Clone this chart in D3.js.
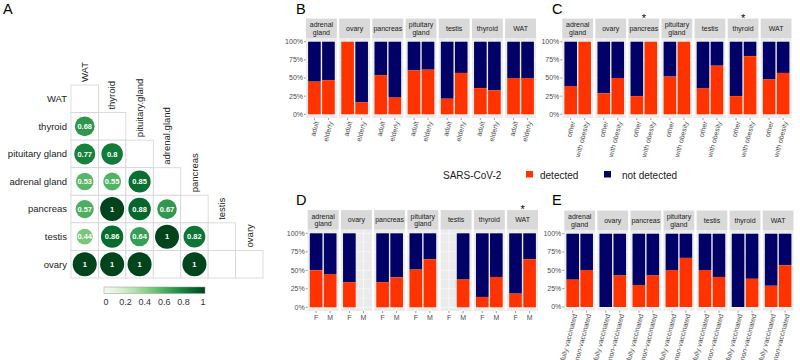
<!DOCTYPE html>
<html><head><meta charset="utf-8">
<script src="https://cdn.jsdelivr.net/npm/d3@7"></script>
<style>body{margin:0;background:#fff}svg{display:block;font-family:"Liberation Sans",Arial,sans-serif}</style>
</head><body>
<svg id="c" width="800" height="360"></svg>
<script>
// ---------- DATA ----------
const corrRows = ["WAT","thyroid","pituitary gland","adrenal gland","pancreas","testis","ovary"];
const corrCols = ["WAT","thyroid","pituitary.gland","adrenal.gland","pancreas","testis","ovary"];
const corrValues = [
  [],
  [0.68],
  [0.77, 0.8],
  [0.53, 0.55, 0.85],
  [0.57, 1, 0.88, 0.67],
  [0.44, 0.86, 0.64, 1, 0.82],
  [1, 1, 1, null, 1, null]
];
const colorbarTicks = [0, 0.2, 0.4, 0.6, 0.8, 1];

const tissues = ["adrenal gland","ovary","pancreas","pituitary gland","testis","thyroid","WAT"];
const yTicks = [0, 0.25, 0.5, 0.75, 1];
const yTickLabels = ["0%","25%","50%","75%","100%"];

const ageGroups = ["adult","elderly"];
const ageDetected = [[0.45,0.47],[1.0,0.165],[0.54,0.23],[0.605,0.615],[0.215,0.57],[0.36,0.33],[0.5,0.5]];
const ageStars = [];

const obesityGroups = ["other","with obesity"];
const obesityDetected = [[0.39,1],[0.29,0.5],[0.25,1],[0.52,1],[0.355,0.67],[0.25,0.80],[0.48,0.57]];
const obesityStars = ["pancreas","thyroid"];

const sexGroups = ["F","M"];
const sexDetected = [[0.5,0.45],[0.34,null],[0.34,0.405],[0.51,0.65],[null,0.375],[0.14,0.41],[0.185,0.65]];
const sexStars = ["WAT"];

const vaccGroups = ["fully vaccinated","non-vaccinated"];
const vaccDetected = [[0.373,0.505],[0,0.43],[0.30,0.43],[0.505,0.67],[0.505,0.41],[0,0.385],[0.29,0.57]];
const vaccStars = [];

const legendTitle = "SARS-CoV-2";
const legendLabels = ["detected","not detected"];
const COL_DET = "#FF3300", COL_NOT = "#000066";

// ---------- DRAW ----------
const svg = d3.select("#c");

// Panel letters
[["A",3,14],["B",296,14],["C",552,14],["D",296,205],["E",552,205]].forEach(([t,x,y])=>{
  svg.append("text").attr("x",x).attr("y",y).attr("font-size",14.5).attr("fill","#000").text(t);
});

// ---------- Panel A : correlation ----------
const gA = svg.append("g");
const xA = d3.scaleBand().domain(d3.range(corrCols.length)).range([71, 263]);
const yA = d3.scaleBand().domain(d3.range(corrRows.length)).range([85, 278]);
const rA = d3.scaleSqrt().domain([0,1]).range([0, 12]);
const colA = v => d3.interpolateGreens(0.08 + 0.92*v);

corrRows.forEach((r,i)=>{
  for(let j=0;j<=i;j++){
    gA.append("rect").attr("x",xA(j)).attr("y",yA(i)).attr("width",xA.bandwidth()).attr("height",yA.bandwidth())
      .attr("fill","#fff").attr("stroke","#d4d4d4").attr("stroke-width",0.8);
  }
});
corrRows.forEach((r,i)=>{
  gA.append("text").attr("x",67).attr("y",yA(i)+yA.bandwidth()/2).attr("dy","0.35em")
    .attr("text-anchor","end").attr("font-size",9.5).attr("fill","#222").text(r);
  corrValues[i].forEach((v,j)=>{
    if(v==null) return;
    const cx = xA(j)+xA.bandwidth()/2, cy = yA(i)+yA.bandwidth()/2;
    gA.append("circle").attr("cx",cx).attr("cy",cy).attr("r",rA(v)).attr("fill",colA(v));
    gA.append("text").attr("x",cx).attr("y",cy).attr("dy","0.35em").attr("text-anchor","middle")
      .attr("font-size",7.5).attr("font-weight","bold").attr("fill","#fff").text(String(v));
  });
});
corrCols.forEach((c,j)=>{
  const cx = xA(j)+xA.bandwidth()/2 + 3.3, by = yA(j) - 3;
  gA.append("text").attr("transform",`translate(${cx},${by}) rotate(-90)`)
    .attr("font-size",9.5).attr("fill","#222").text(c);
});
// colorbar
const defs = svg.append("defs");
const grad = defs.append("linearGradient").attr("id","gA");
d3.range(0,1.0001,0.1).forEach(t=>grad.append("stop").attr("offset",t).attr("stop-color",d3.interpolateGreens(0.02+0.98*t)));
const cbX = d3.scaleLinear().domain([0,1]).range([106, 203]);
gA.append("rect").attr("x",104).attr("y",287).attr("width",101).attr("height",6.5)
  .attr("fill","url(#gA)").attr("stroke","#999").attr("stroke-width",0.5);
colorbarTicks.forEach(t=>{
  gA.append("text").attr("x",cbX(t)).attr("y",305).attr("text-anchor","middle").attr("font-size",9).attr("fill","#333").text(String(t));
});

// ---------- Facet bar panels ----------
function facetPanel(cfg){
  const g = svg.append("g");
  const fx = d3.scaleBand().domain(tissues).range(cfg.xr).paddingInner(0.07);
  const y = d3.scaleLinear().domain([0,1]).range([cfg.y0, cfg.y100]);
  const pTop = y(1.05), pBot = y(-0.05);
  const stripH = 19.5;
  tissues.forEach((t,k)=>{
    const x0 = fx(t), w = fx.bandwidth();
    const bx = d3.scaleBand().domain(cfg.groups).range([x0, x0+w]).paddingInner(0.1).paddingOuter(0.15);
    g.append("rect").attr("x",x0).attr("y",pTop).attr("width",w).attr("height",pBot-pTop).attr("fill","#EBEBEB");
    [0.125,0.375,0.625,0.875].forEach(v=>g.append("line").attr("x1",x0).attr("x2",x0+w).attr("y1",y(v)).attr("y2",y(v)).attr("stroke","#fff").attr("stroke-width",0.3));
    yTicks.forEach(v=>g.append("line").attr("x1",x0).attr("x2",x0+w).attr("y1",y(v)).attr("y2",y(v)).attr("stroke","#fff").attr("stroke-width",0.6));
    cfg.groups.forEach(gr=>{
      const cx = bx(gr)+bx.bandwidth()/2;
      g.append("line").attr("x1",cx).attr("x2",cx).attr("y1",pTop).attr("y2",pBot).attr("stroke","#fff").attr("stroke-width",0.6);
    });
    g.append("rect").attr("x",x0).attr("y",pTop-stripH).attr("width",w).attr("height",stripH).attr("fill","#D9D9D9");
    const words = t.split(" ");
    const st = g.append("text").attr("text-anchor","middle").attr("font-size",7).attr("fill","#1a1a1a");
    words.forEach((wd,i)=>{
      st.append("tspan").attr("x",x0+w/2).attr("y",pTop-stripH/2 + (i-(words.length-1)/2)*7.6).attr("dy","0.35em").text(wd);
    });
    if(cfg.stars.includes(t)){
      g.append("text").attr("x",x0+w/2).attr("y",pTop-stripH+3).attr("text-anchor","middle").attr("font-size",11).attr("fill","#000").text("*");
    }
    cfg.groups.forEach((gr,gi)=>{
      const d = cfg.data[k][gi];
      if(d==null) return;
      const bxx = bx(gr), bw = bx.bandwidth();
      g.append("rect").attr("x",bxx).attr("y",y(1)).attr("width",bw).attr("height",y(d)-y(1)).attr("fill",COL_NOT);
      g.append("rect").attr("x",bxx).attr("y",y(d)).attr("width",bw).attr("height",y(0)-y(d)).attr("fill",COL_DET);
    });
    cfg.groups.forEach(gr=>{
      const cx = bx(gr)+bx.bandwidth()/2;
      g.append("line").attr("x1",cx).attr("x2",cx).attr("y1",pBot).attr("y2",pBot+2).attr("stroke","#333").attr("stroke-width",0.5);
      if(cfg.rotate){
        g.append("text").attr("transform",`translate(${cx+2.2},${pBot+3.5}) rotate(-75)`)
          .attr("text-anchor","end").attr("dy","0.35em").attr("font-size",7).attr("fill","#4d4d4d").text(gr);
      } else {
        g.append("text").attr("x",cx).attr("y",pBot+8.5).attr("text-anchor","middle").attr("font-size",7).attr("fill","#4d4d4d").text(gr);
      }
    });
    if(k===0){
      yTicks.forEach((v,i)=>{
        g.append("line").attr("x1",x0-2).attr("x2",x0).attr("y1",y(v)).attr("y2",y(v)).attr("stroke","#333").attr("stroke-width",0.5);
        g.append("text").attr("x",x0-3).attr("y",y(v)).attr("dy","0.35em").attr("text-anchor","end").attr("font-size",7).attr("fill","#4d4d4d").text(yTickLabels[i]);
      });
    }
  });
}

facetPanel({xr:[306,536], y0:114.3, y100:41.7, groups:ageGroups, data:ageDetected, stars:ageStars, rotate:true});
facetPanel({xr:[562.3,791.5], y0:114.3, y100:41.7, groups:obesityGroups, data:obesityDetected, stars:obesityStars, rotate:true});
facetPanel({xr:[307.7,538], y0:307.3, y100:233.3, groups:sexGroups, data:sexDetected, stars:sexStars, rotate:false});
facetPanel({xr:[564.3,793.5], y0:307, y100:233.7, groups:vaccGroups, data:vaccDetected, stars:vaccStars, rotate:true});

// Legend
const gL = svg.append("g").attr("font-size",10).attr("fill","#1a1a1a");
gL.append("text").attr("x",443).attr("y",178.5).text(legendTitle);
const legX = [[526,540],[604,622]];
legendLabels.forEach((l,i)=>{
  gL.append("rect").attr("x",legX[i][0]).attr("y",171).attr("width",7).attr("height",6.5).attr("fill",i===0?COL_DET:COL_NOT);
  gL.append("text").attr("x",legX[i][1]).attr("y",178.5).text(l);
});
</script>
</body></html>
